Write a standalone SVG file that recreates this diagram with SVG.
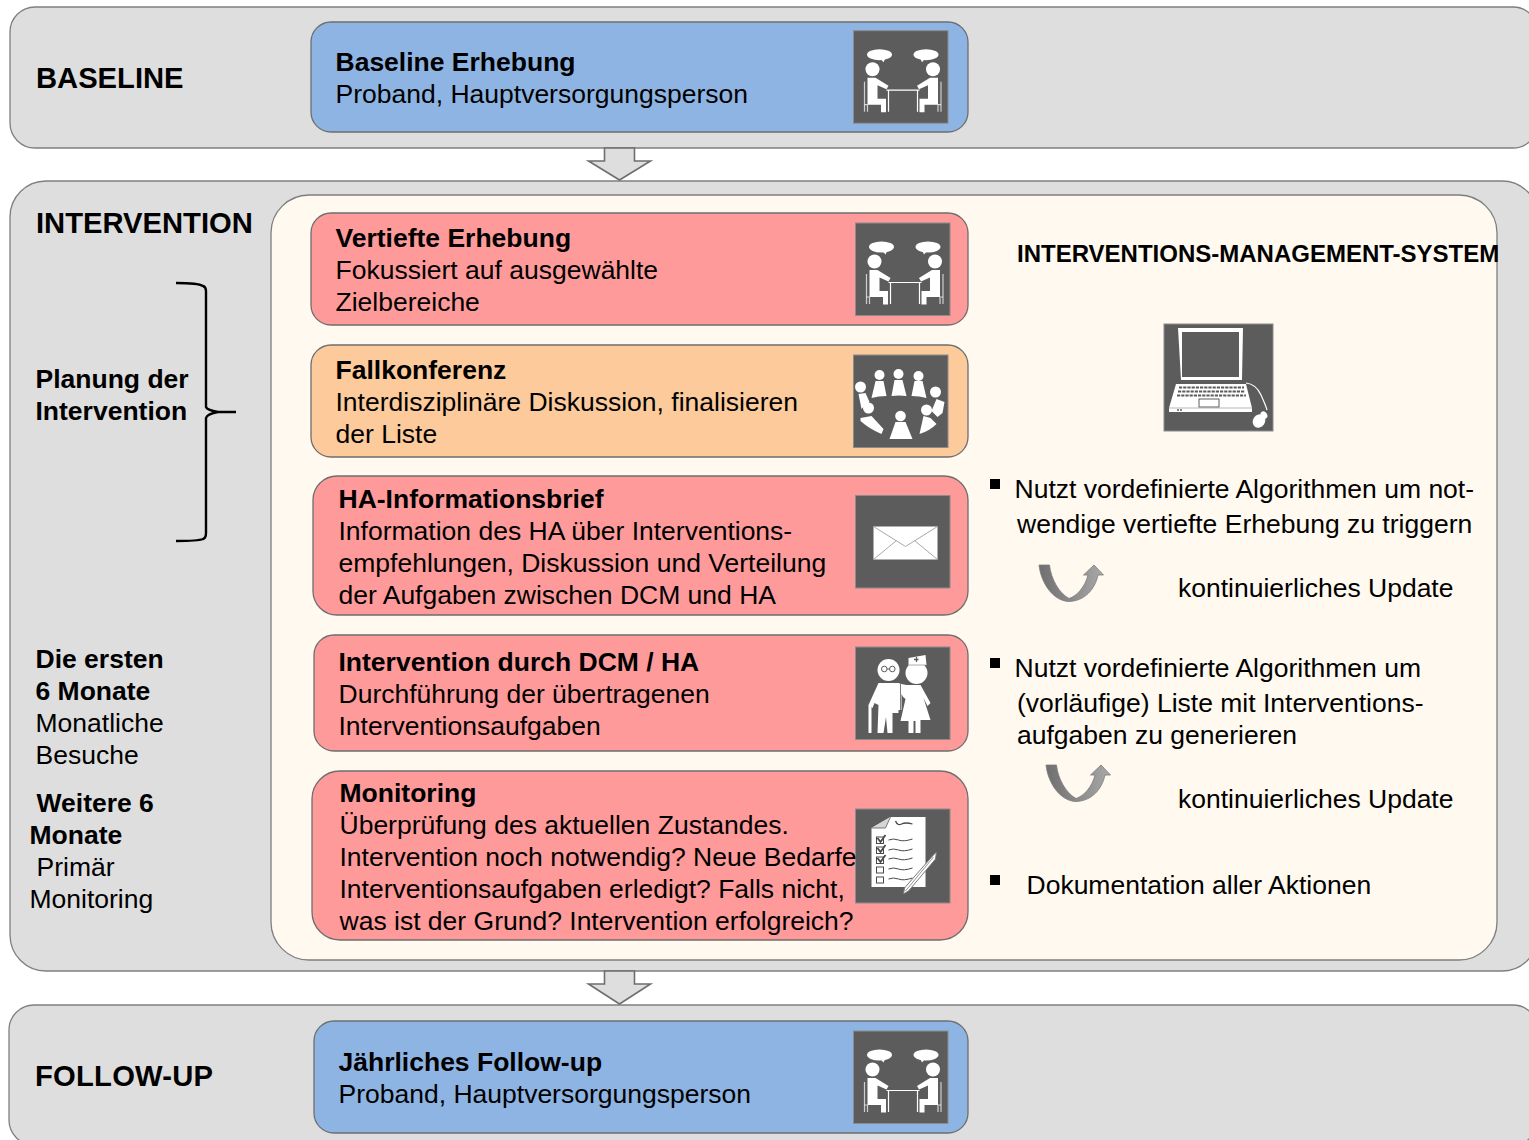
<svg xmlns="http://www.w3.org/2000/svg" width="1529" height="1140" viewBox="0 0 1529 1140">
<style>
text{font-family:"Liberation Sans",Arial,sans-serif;fill:#000;font-size:26.5px}
.b{font-weight:bold}
.h{font-weight:bold;font-size:29.2px}
.band{fill:#dedede;stroke:#7f7f7f;stroke-width:1.3}
.card{stroke:#6e6e6e;stroke-width:1.3}
.blue{fill:#8eb4e3}
.red{fill:#ff9a9a}
.orange{fill:#fdca9b}
.tile{fill:#5c5c5c;stroke:#8c8c8c;stroke-width:1}
.w{fill:#fff}
.wl{fill:none;stroke:#fff;stroke-width:1.2}
.arrow{fill:#dedede;stroke:#6e6e6e;stroke-width:1.6}
.bullet{fill:#000}
</style>
<defs>
<filter id="soft" x="-5%" y="-5%" width="110%" height="110%"><feGaussianBlur stdDeviation="0.5"/></filter>
<linearGradient id="curl" x1="0" y1="0" x2="1" y2="0"><stop offset="0" stop-color="#6f6f6f"/><stop offset="1" stop-color="#a8a8a8"/></linearGradient>
<g id="person">
<ellipse class="w" cx="26" cy="24" rx="12.500" ry="5.500"/><path class="w" d="M26 27L30 31.500L32 27Z"/>
<circle class="w" cx="19" cy="38.500" r="7"/>
<path class="w" d="M14 47H22L35 55L33 58.500L24 54.500V68H32.500V81.500H27.500V74H14Z"/>
<path class="wl" d="M11 51V81" stroke-opacity="0.7"/>
<path class="wl" d="M11 74H14V81" stroke-opacity="0.7"/>
</g>
<g id="talk" filter="url(#soft)">
<rect class="tile" width="94.500" height="92.500"/>
<use href="#person"/>
<use href="#person" transform="matrix(-1 0 0 1 98.500 0)"/>
<path class="wl" d="M33 59.500H66M35 59.500V81M64 59.500V81"/>
</g>
<g id="round" filter="url(#soft)">
<rect class="tile" width="94.500" height="92.500"/>
<g class="w">
<circle cx="26" cy="20" r="5"/><path d="M22 26H30L33 41Q25 41 18 43Z"/>
<circle cx="45" cy="19" r="5"/><path d="M41 25H49L53 41Q45 40 38 41Z"/>
<circle cx="65" cy="21" r="5"/><path d="M61 26H69L73 43Q66 41 58 41Z"/>
<circle cx="7" cy="32" r="5.500"/><path d="M5 39L12 38L16 47L10 52L8 54Z"/>
<circle cx="82" cy="37" r="5.500"/><path d="M83 44L91 47L89 58L84 62L78 56Z"/>
<circle cx="15" cy="53" r="5.500"/><path d="M7 63L18 61L30 74L28 79Q16 74 7 66Z"/>
<circle cx="73" cy="55" r="5.500"/><path d="M70 61L77 63L83 69Q76 76 66 79Z"/>
<circle cx="47" cy="61" r="5.300"/><path d="M42 67H52L59 84H36Z"/>
</g>
</g>
<g id="mail" filter="url(#soft)">
<rect class="tile" width="94.500" height="92.500"/>
<rect class="w" x="18" y="31" width="64" height="33"/>
<path d="M18 31L50 51L82 31M18 64L41 45M82 64L59 45" fill="none" stroke="#a8a8a8" stroke-width="1"/>
</g>
<g id="care" filter="url(#soft)">
<rect class="tile" width="94.500" height="92.500"/>
<g class="w">
<circle cx="33" cy="23" r="11"/>
<path d="M23 36H44L43 62V66H37V86H32L30.500 70L28 86H22L23 58L19 56L17 61L13 58Z"/>
<rect x="13" y="58" width="3" height="28"/>
<path d="M53 11L70 8L71 18H53Z"/>
<circle cx="61" cy="26" r="11"/>
<path d="M40 36L46 37L51 38H65L75 56L72 59L68 51L75 73H65V86H60V74H58V86H53V74H45L50 52Q47 50 46 47V63H41Z"/>
</g>
<path d="M58.500 12.500H63M61 10V15" stroke="#5c5c5c" stroke-width="1.300"/>
<path d="M53 18H71" stroke="#9a9a9a" stroke-width="0.800"/>
<path d="M26 22a2.800 2.800 0 1 0 5.600 0a2.800 2.800 0 1 0-5.600 0M34 22a2.800 2.800 0 1 0 5.600 0a2.800 2.800 0 1 0-5.600 0M31.600 22H34" fill="none" stroke="#5c5c5c" stroke-width="1"/>
<path d="M45 37V63" stroke="#5c5c5c" stroke-width="0.800"/>
</g>
<g id="check" filter="url(#soft)">
<rect class="tile" width="94.500" height="94"/>
<path class="w" d="M16 19L35 8H70V78H16Z"/>
<path d="M35 8L30 19L16 19" fill="#d5d5d5" stroke="#5c5c5c" stroke-width="0.800"/>
<g fill="none" stroke="#4a4a4a" stroke-width="1">
<path d="M40 12Q42 17 46 15T57 15" stroke-width="1.300"/>
<path d="M33 31Q38 29 43 31T57 30M33 41Q38 39 43 41T57 40M33 50Q38 48 43 50T57 49M33 60Q38 58 43 60T57 59M33 70Q38 68 43 70T57 69"/>
<rect x="21" y="28" width="7" height="6.500"/><rect x="21" y="38" width="7" height="6.500"/><rect x="21" y="48" width="7" height="6.500"/><rect x="21" y="58" width="7" height="6"/><rect x="21" y="68" width="7" height="6"/>
<path d="M22 29L25 33L30 26M22 39L25 43L30 36M22 49L25 53L30 46" stroke-width="1.800"/>
</g>
<path d="M48 85L49 79L77 47L81 43L80 50L53 82Z" fill="#fff" stroke="#777" stroke-width="1"/>
<path d="M50 82L78 48" stroke="#777" stroke-width="0.800"/>
</g>
<g id="laptop" filter="url(#soft)">
<rect class="tile" width="109" height="107"/>
<path class="w" fill-rule="evenodd" d="M14 4H79L78 56H17ZM18 8V53H75V8Z"/>
<path class="w" d="M12 60H82L88 84V88H5V84Z"/>
<path fill="none" stroke="#5c5c5c" stroke-width="2.200" stroke-dasharray="3.200 1" d="M15 63.500H80M14 67.500H81M13 71.500H82"/>
<rect x="35" y="75" width="20" height="8" fill="none" stroke="#5c5c5c" stroke-width="1"/>
<path d="M5 84H88" stroke="#999" stroke-width="0.700"/>
<path d="M13 86H18" stroke="#5c5c5c" stroke-width="1.500" stroke-dasharray="2 1"/>
<path class="wl" d="M82 59Q92 60 97 71T103 86" stroke-width="0.800"/>
<ellipse class="w" cx="95" cy="97" rx="6" ry="7" transform="rotate(35 95 97)"/>
<ellipse class="w" cx="100" cy="91" rx="3" ry="4" transform="rotate(-35 100 91)"/>
</g>
<path id="curlarrow" fill="url(#curl)" stroke="#7b7b7b" stroke-width="0.800" d="M0 0H10.500C12 14 20 28 30 33.500C38 31 46 22 49 10H44.500L55 0L64.500 10H59C56 24 46 36 30 36.500C14 36 2 18 0 0Z"/>
</defs>

<g id="phase-baseline">
<rect class="band" x="10" y="7" width="1528" height="141" rx="25"/>
<text class="h" x="36" y="88">BASELINE</text>
</g>
<g id="phase-intervention">
<rect class="band" x="10" y="181" width="1528" height="790" rx="36"/>
<text class="h" x="36" y="233">INTERVENTION</text>
</g>
<g id="phase-followup">
<rect class="band" x="9" y="1005" width="1529" height="140" rx="25"/>
<text class="h" x="35" y="1086" textLength="178">FOLLOW-UP</text>
</g>

<g id="connectors">
<path class="arrow" d="M604.500 148V161H588.500L619.500 180L650.500 161H634.500V148Z"/>
<path class="arrow" d="M604.500 971V984H588.500L619.500 1004L650.500 984H634.500V971Z"/>
</g>

<g id="system-panel">
<rect x="271" y="195" width="1226" height="765" rx="38" fill="#fff9ef" stroke="#7f7f7f" stroke-width="1.300"/>
</g>

<g id="planung">
<path d="M176 283Q198 283 203 286Q206 287 206 291V407Q207 410 218 412H236M218 412Q207 414 206 418V533Q206 538 203 539Q198 541 176 541" fill="none" stroke="#000" stroke-width="2.400"/>
<text class="b" x="35.500" y="388">Planung der</text>
<text class="b" x="35.500" y="420">Intervention</text>
</g>
<g id="label-6-monate">
<text class="b" x="35.500" y="668">Die ersten</text>
<text class="b" x="35.500" y="700">6 Monate</text>
<text x="35.500" y="732">Monatliche</text>
<text x="35.500" y="764">Besuche</text>
</g>
<g id="label-weitere">
<text class="b" x="36.500" y="812">Weitere 6</text>
<text class="b" x="29.500" y="844">Monate</text>
<text x="36.500" y="876">Primär</text>
<text x="29.500" y="908">Monitoring</text>
</g>

<g id="node-baseline">
<rect class="card blue" x="311" y="22" width="657" height="110" rx="20"/>
<use href="#talk" x="853.500" y="30.700"/>
<text class="b" x="335.500" y="71">Baseline Erhebung</text>
<text x="335.500" y="103">Proband, Hauptversorgungsperson</text>
</g>
<g id="node-vertiefte">
<rect class="card red" x="311" y="213" width="657" height="112" rx="20"/>
<use href="#talk" x="855.500" y="223"/>
<text class="b" x="335.500" y="247">Vertiefte Erhebung</text>
<text x="335.500" y="279">Fokussiert auf ausgewählte</text>
<text x="335.500" y="311">Zielbereiche</text>
</g>
<g id="node-fallkonferenz">
<rect class="card orange" x="311" y="345" width="657" height="112" rx="20"/>
<use href="#round" x="853.500" y="355"/>
<text class="b" x="335.500" y="379">Fallkonferenz</text>
<text x="335.500" y="411">Interdisziplinäre Diskussion, finalisieren</text>
<text x="335.500" y="443">der Liste</text>
</g>
<g id="node-ha-brief">
<rect class="card red" x="313" y="476" width="655" height="139" rx="24"/>
<use href="#mail" x="855.500" y="495.500"/>
<text class="b" x="338.500" y="508">HA-Informationsbrief</text>
<text x="338.500" y="540">Information des HA über Interventions-</text>
<text x="338.500" y="572">empfehlungen, Diskussion und Verteilung</text>
<text x="338.500" y="604">der Aufgaben zwischen DCM und HA</text>
</g>
<g id="node-intervention">
<rect class="card red" x="314" y="635" width="654" height="116" rx="20"/>
<use href="#care" x="855.500" y="647"/>
<text class="b" x="338.500" y="671">Intervention durch DCM / HA</text>
<text x="338.500" y="703">Durchführung der übertragenen</text>
<text x="338.500" y="735">Interventionsaufgaben</text>
</g>
<g id="node-monitoring">
<rect class="card red" x="312" y="771" width="656" height="169" rx="28"/>
<use href="#check" x="855.500" y="809"/>
<text class="b" x="339.500" y="802">Monitoring</text>
<text x="339.500" y="834">Überprüfung des aktuellen Zustandes.</text>
<text x="339.500" y="866">Intervention noch notwendig? Neue Bedarfe</text>
<text x="339.500" y="898">Interventionsaufgaben erledigt? Falls nicht,</text>
<text x="339.500" y="930">was ist der Grund? Intervention erfolgreich?</text>
</g>
<g id="node-followup">
<rect class="card blue" x="314" y="1021" width="654" height="112" rx="20"/>
<use href="#talk" x="853.500" y="1031"/>
<text class="b" x="338.500" y="1071">Jährliches Follow-up</text>
<text x="338.500" y="1103">Proband, Hauptversorgungsperson</text>
</g>

<g id="node-system">
<text class="b" x="1017" y="262" style="font-size:24px">INTERVENTIONS-MANAGEMENT-SYSTEM</text>
<use href="#laptop" x="1164" y="324"/>
<rect class="bullet" x="990" y="479" width="10" height="10"/>
<text x="1014.500" y="498">Nutzt vordefinierte Algorithmen um not-</text>
<text x="1017" y="533">wendige vertiefte Erhebung zu triggern</text>
<use href="#curlarrow" x="1039" y="565"/>
<text x="1178" y="597">kontinuierliches Update</text>
<rect class="bullet" x="990" y="658" width="10" height="10"/>
<text x="1014.500" y="677">Nutzt vordefinierte Algorithmen um</text>
<text x="1017" y="712">(vorläufige) Liste mit Interventions-</text>
<text x="1017" y="744">aufgaben zu generieren</text>
<use href="#curlarrow" x="1046" y="765"/>
<text x="1178" y="808">kontinuierliches Update</text>
<rect class="bullet" x="990" y="875" width="10" height="10"/>
<text x="1026.500" y="894">Dokumentation aller Aktionen</text>
</g>
</svg>
